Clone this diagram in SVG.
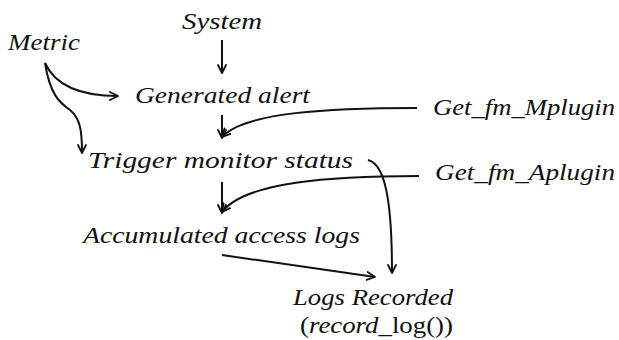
<svg xmlns="http://www.w3.org/2000/svg" width="619" height="340" viewBox="0 0 619 340">
<defs>
<marker id="ah" viewBox="0 0 10 10" markerWidth="10" markerHeight="10" refX="9" refY="5" orient="auto" markerUnits="userSpaceOnUse">
<path d="M1,1 L9,5 L1,9" fill="none" stroke="#111" stroke-width="1.8" stroke-linecap="round" stroke-linejoin="round"/>
</marker>
<style>
text{font-family:"Liberation Serif","DejaVu Serif",serif;font-style:italic;font-size:23px;fill:#111}
.up{font-style:normal}
.c{fill:none;stroke:#111;stroke-width:2;marker-end:url(#ah)}
</style>
</defs>
<rect width="619" height="340" fill="#fff"/>
<g id="system"><text x="182" y="29" textLength="80" lengthAdjust="spacingAndGlyphs">System</text></g>
<g id="metric"><text x="8" y="50" textLength="72" lengthAdjust="spacingAndGlyphs">Metric</text></g>
<g id="generated-alert"><text x="135" y="103" textLength="175" lengthAdjust="spacingAndGlyphs">Generated alert</text></g>
<g id="trigger"><text x="88" y="168" textLength="265" lengthAdjust="spacingAndGlyphs">Trigger monitor status</text></g>
<g id="mplugin"><text x="433" y="115" textLength="182" lengthAdjust="spacingAndGlyphs">Get_fm_Mplugin</text></g>
<g id="aplugin"><text x="435" y="180" textLength="180" lengthAdjust="spacingAndGlyphs">Get_fm_Aplugin</text></g>
<g id="accumulated"><text x="83" y="243" textLength="277" lengthAdjust="spacingAndGlyphs">Accumulated access logs</text></g>
<g id="logs-recorded">
<text x="293" y="305" textLength="160" lengthAdjust="spacingAndGlyphs">Logs Recorded</text>
<text x="300" y="333" textLength="153" lengthAdjust="spacingAndGlyphs"><tspan class="up">(</tspan>record_<tspan class="up">log())</tspan></text>
</g>
<g id="connectors">
<path class="c" d="M222,40 L222,73"/>
<path class="c" d="M45,63 C55,85 80,96 118,96"/>
<path class="c" d="M45,63 C50,95 60,103 70,110 C80,118 82,130 82,153"/>
<path class="c" d="M222,115 L222,138"/>
<path class="c" d="M417,108 C330,108 245,112 222,137"/>
<path class="c" d="M222,182 L222,213"/>
<path class="c" d="M419,176 C330,176 245,182 222,212"/>
<path class="c" d="M368,160 C385,164 392,200 392,273"/>
<path class="c" d="M222,255 L375,277"/>
</g>
</svg>
